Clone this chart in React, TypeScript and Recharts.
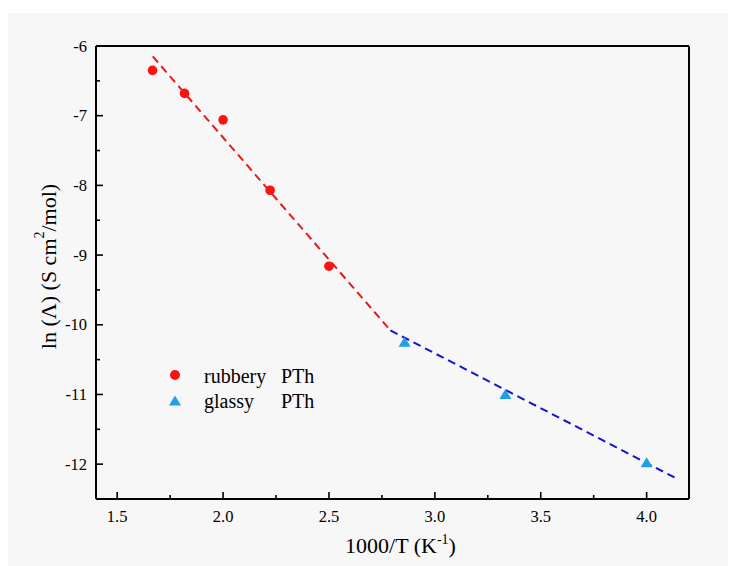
import React from 'react';
import { ScatterChart, Scatter, XAxis, YAxis, Legend, ReferenceLine } from 'recharts';

// Data (1000/T in K^-1, ln(Λ))
const rubberyX = [1.667, 1.818, 2.0, 2.222, 2.5];
const rubberyY = [-6.35, -6.68, -7.06, -8.07, -9.16];
const glassyX = [2.857, 3.333, 4.0];
const glassyY = [-10.25, -11.0, -11.98];
const rubberyFitX = [1.668, 2.79];
const rubberyFitY = [-6.15, -10.08];
const glassyFitX = [2.79, 4.15];
const glassyFitY = [-10.08, -12.22];

const xTicks = [1.5, 1.75, 2.0, 2.25, 2.5, 2.75, 3.0, 3.25, 3.5, 3.75, 4.0];
const yTicks = [-12, -11.5, -11, -10.5, -10, -9.5, -9, -8.5, -8, -7.5, -7, -6.5, -6];
const xDomain = [1.4, 4.2];
const yDomain = [-12.5, -6];

const rubberyName = 'rubbery';
const glassyName = 'glassy';
const seriesSuffix = 'PTh';

const zip = (xs: number[], ys: number[]) => xs.map((x, i) => ({ x, y: ys[i] }));
const rubberyData = zip(rubberyX, rubberyY);
const glassyData = zip(glassyX, glassyY);
const rubberyFit = zip(rubberyFitX, rubberyFitY);
const glassyFit = zip(glassyFitX, glassyFitY);

const FONT = '"Liberation Serif", "Times New Roman", serif';
const RED = '#ff1111';
const RED_LINE = '#e8191c';
const BLUE_LINE = '#1414cc';
const TRI = '#1f9fe6';

const XTick = (props: any) => {
  const { x, y, payload } = props;
  const v = payload.value;
  const major = Math.abs(v * 2 - Math.round(v * 2)) < 1e-6;
  return (
    <g>
      <line x1={x} y1={y} x2={x} y2={y - (major ? 7 : 4)} stroke="#000" strokeWidth={1.6} />
      {major && (
        <text x={x} y={y + 22.5} textAnchor="middle" fontFamily={FONT} fontSize={16.5} fill="#000">
          {v.toFixed(1)}
        </text>
      )}
    </g>
  );
};

const YTick = (props: any) => {
  const { x, y, payload } = props;
  const v = payload.value;
  const major = Math.abs(v - Math.round(v)) < 1e-6;
  return (
    <g>
      <line x1={x} y1={y} x2={x + (major ? 7 : 4)} y2={y} stroke="#000" strokeWidth={1.6} />
      {major && (
        <text x={x - 9} y={y + 5.5} textAnchor="end" fontFamily={FONT} fontSize={16.5} fill="#000">
          {String(v)}
        </text>
      )}
    </g>
  );
};

const Circle = (props: any) => {
  const { cx, cy } = props;
  if (cx == null || cy == null) return <g />;
  return <circle cx={cx} cy={cy} r={4.8} fill={RED} />;
};

const Triangle = (props: any) => {
  const { cx, cy } = props;
  if (cx == null || cy == null) return <g />;
  return <polygon points={`${cx},${cy - 5.5} ${cx + 6},${cy + 4.5} ${cx - 6},${cy + 4.5}`} fill={TRI} />;
};

const NoShape = () => <g />;

const XLabel = (props: any) => {
  const vb = props.viewBox || { x: 0, y: 0, width: 0, height: 0 };
  const cx = vb.x + vb.width / 2 + 8;
  const y = vb.y + vb.height + 19;
  return (
    <text x={cx} y={y} textAnchor="middle" fontFamily={FONT} fontSize={22} fill="#000">
      <tspan>1000/T (K</tspan>
      <tspan dy={-9} fontSize={14}>-1</tspan>
      <tspan dy={9}>)</tspan>
    </text>
  );
};

const YLabel = (props: any) => {
  const vb = props.viewBox || { x: 0, y: 0, width: 0, height: 0 };
  const cx = vb.x + 12;
  const cy = vb.y + vb.height / 2 - 6;
  return (
    <text
      x={cx}
      y={cy}
      transform={`rotate(-90 ${cx} ${cy})`}
      textAnchor="middle"
      dominantBaseline="central"
      fontFamily={FONT}
      fontSize={22}
      fill="#000"
    >
      <tspan>ln (Λ) (S cm</tspan>
      <tspan dy={-9} fontSize={14}>2</tspan>
      <tspan dy={9}>/mol)</tspan>
    </text>
  );
};

const LegendContent = () => (
  <svg width={180} height={60} style={{ display: 'block' }}>
    <circle cx={15} cy={17} r={5} fill={RED} />
    <text x={44} y={25.3} fontFamily={FONT} fontSize={20} fill="#000">{rubberyName}</text>
    <text x={121} y={25.3} fontFamily={FONT} fontSize={20} fill="#000">{seriesSuffix}</text>
    <polygon points="15,37.5 21,47.5 9,47.5" fill={TRI} />
    <text x={44} y={50.3} fontFamily={FONT} fontSize={20} fill="#000">{glassyName}</text>
    <text x={121} y={50.3} fontFamily={FONT} fontSize={20} fill="#000">{seriesSuffix}</text>
  </svg>
);

export default function App() {
  return (
    <div style={{ marginTop: 5, width: 728, height: 553, background: '#f7f7f7' }}>
      <ScatterChart width={728} height={553} margin={{ top: 33, right: 47, bottom: 32, left: 28 }}>
        <XAxis
          dataKey="x"
          type="number"
          domain={xDomain}
          ticks={xTicks}
          interval={0}
          tickSize={0}
          tickMargin={0}
          tickLine={false}
          tick={<XTick />}
          height={35}
          axisLine={{ stroke: '#000', strokeWidth: 2 }}
          allowDataOverflow
          label={{ content: (p: any) => <XLabel {...p} /> }}
        />
        <YAxis
          dataKey="y"
          type="number"
          domain={yDomain}
          ticks={yTicks}
          interval={0}
          tickSize={0}
          tickMargin={0}
          tickLine={false}
          tick={<YTick />}
          width={60}
          axisLine={{ stroke: '#000', strokeWidth: 2 }}
          allowDataOverflow
          label={{ content: (p: any) => <YLabel {...p} /> }}
        />
        <ReferenceLine y={yDomain[1]} stroke="#000" strokeWidth={2} ifOverflow="visible" />
        <ReferenceLine x={xDomain[1]} stroke="#000" strokeWidth={2} ifOverflow="visible" />
        <Scatter
          data={rubberyFit}
          line={{ stroke: RED_LINE, strokeWidth: 2, strokeDasharray: '8 5' }}
          lineType="joint"
          shape={<NoShape />}
          isAnimationActive={false}
        />
        <Scatter
          data={glassyFit}
          line={{ stroke: BLUE_LINE, strokeWidth: 2, strokeDasharray: '8 5' }}
          lineType="joint"
          shape={<NoShape />}
          isAnimationActive={false}
        />
        <Scatter data={rubberyData} shape={<Circle />} isAnimationActive={false} />
        <Scatter data={glassyData} shape={<Triangle />} isAnimationActive={false} />
        <Legend
          layout="vertical"
          align="center"
          verticalAlign="middle"
          content={<LegendContent />}
          wrapperStyle={{ left: 152, top: 345, width: 180, height: 60 }}
        />
      </ScatterChart>
    </div>
  );
}
